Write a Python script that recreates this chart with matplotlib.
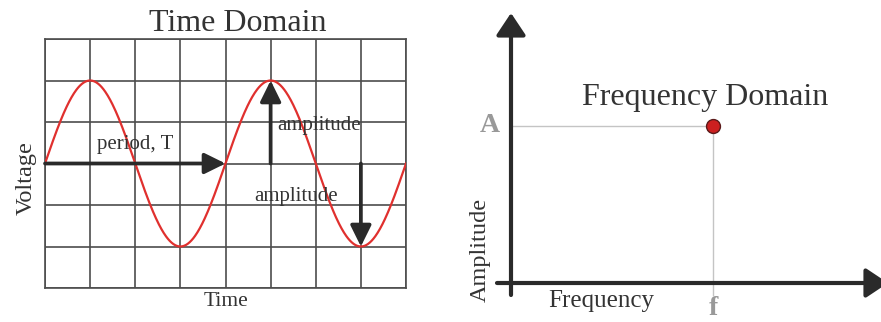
import numpy as np
import matplotlib.pyplot as plt

plt.rcParams["font.family"] = ["Liberation Serif", "DejaVu Serif"]

# time-domain signal, in grid units
amplitude = 2.0
period = 4.0
t_span = 8.0
v_span = 3.0

# frequency-domain point
freq_point = 1.0
amp_point = 1.0

text_color = "#333333"
axis_color = "#2a2a2a"

W, H = 881, 322
fig = plt.figure(figsize=(W / 100, H / 100), dpi=100)


def px_axes(left, top, right, bottom):
    return fig.add_axes([left / W, 1 - bottom / H, (right - left) / W, (bottom - top) / H])


# ---- time domain ----
ax = px_axes(45, 39, 406, 288)
t = np.linspace(0, t_span, 600)
ax.plot(t, amplitude * np.sin(2 * np.pi * t / period), color="#e0302e", lw=1.6, zorder=3)
ax.set_xlim(0, t_span)
ax.set_ylim(-v_span, v_span)
ax.set_xticks(np.arange(0, t_span + 1))
ax.set_yticks(np.arange(-v_span, v_span + 1))
ax.tick_params(length=0, labelbottom=False, labelleft=False)
ax.grid(True, color="#4d4d4d", lw=1.2)
for s in ax.spines.values():
    s.set_color("#4d4d4d")
    s.set_linewidth(1.2)

arrow = dict(arrowstyle="-|>,head_length=0.85,head_width=0.42", lw=2.7,
             color=axis_color, shrinkA=0, shrinkB=0, mutation_scale=15)
ax.annotate("", xy=(period, 0), xytext=(0, 0), arrowprops=arrow, zorder=4)
ax.annotate("", xy=(5, amplitude), xytext=(5, 0), arrowprops=arrow, zorder=4)
ax.annotate("", xy=(7, -amplitude), xytext=(7, 0), arrowprops=arrow, zorder=4)

ax.text(2.0, 0.46, "period, T", ha="center", va="center", fontsize=15, color=text_color)
ax.text(5.14, 0.92, "amplitude", ha="left", va="center", fontsize=15, color=text_color)
ax.text(4.63, -0.8, "amplitude", ha="left", va="center", fontsize=15, color=text_color)

ax.text(0.535, 1.064, "Time Domain", transform=ax.transAxes, ha="center", va="center",
        fontsize=23, color=text_color)
ax.text(-0.053, 0.44, "Voltage", transform=ax.transAxes, ha="center", va="center",
        rotation=90, fontsize=17.5, color=text_color)
ax.text(0.5, -0.056, "Time", transform=ax.transAxes, ha="center", va="center",
        fontsize=15.5, color=text_color)

# ---- frequency domain ----
bx = px_axes(470, 5, 881, 322)
# origin sits at pixel (511, 283); the point at (713, 126)
sx, sy = 202.0, 157.0
bx.set_xlim((470 - 511) / sx, (881 - 511) / sx)
bx.set_ylim((283 - 322) / sy, (283 - 5) / sy)
bx.axis("off")

guide = dict(color="#c4c4c4", lw=1.0)
bx.plot([0, freq_point], [amp_point, amp_point], **guide)
bx.plot([freq_point, freq_point], [amp_point, (283 - 295) / sy], **guide)

big_arrow = dict(arrowstyle="-|>,head_length=0.9,head_width=0.6", lw=3.0,
                 color=axis_color, shrinkA=0, shrinkB=0, mutation_scale=15)
bx.annotate("", xy=(0, (283 - 13) / sy), xytext=(0, (283 - 295) / sy),
            arrowprops=big_arrow, annotation_clip=False)
bx.annotate("", xy=((888 - 511) / sx, 0), xytext=((497 - 511) / sx, 0),
            arrowprops=big_arrow, annotation_clip=False)

bx.plot([freq_point], [amp_point], "o", ms=10, color="#cc2020", mec="#5a1a1a", mew=1.0, zorder=5)

bx.text(-0.104, amp_point, "A", ha="center", va="center", fontsize=20,
        fontweight="bold", color="#999999")
bx.text(freq_point, -0.16, "f", ha="center", va="center", fontsize=20,
        fontweight="bold", color="#999999")
bx.text(0.96, 1.18, "Frequency Domain", ha="center", va="center", fontsize=23, color=text_color)
bx.text(-0.153, 0.21, "Amplitude", ha="center", va="center", rotation=90,
        fontsize=17.5, color=text_color)
bx.text(0.446, -0.115, "Frequency", ha="center", va="center", fontsize=18, color=text_color)

fig.savefig("out.png", dpi=100)
